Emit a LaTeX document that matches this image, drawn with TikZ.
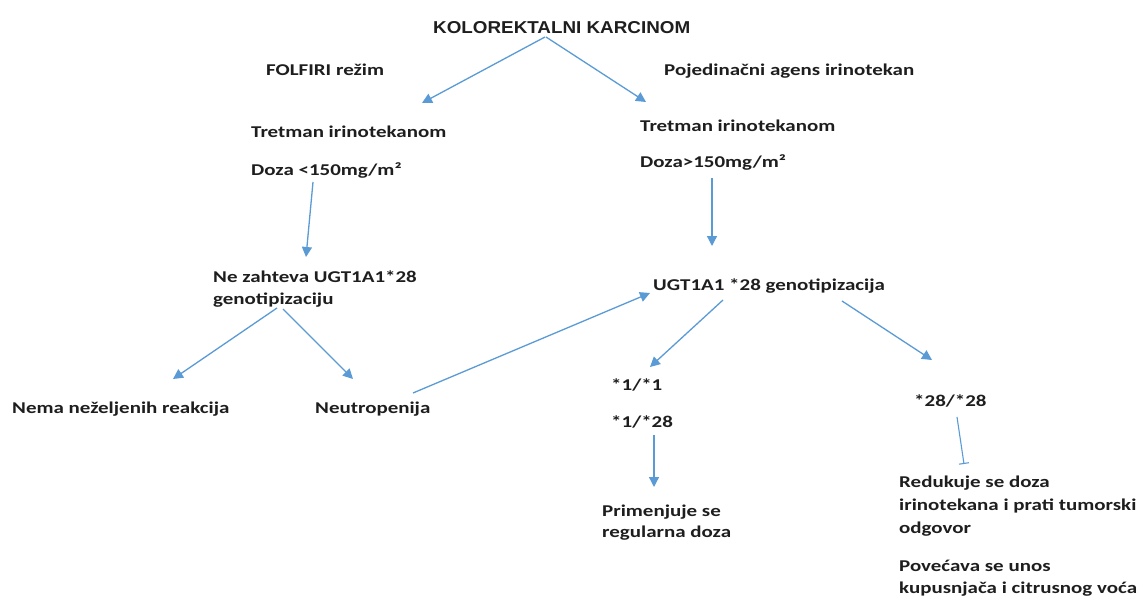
\documentclass[tikz,border=0pt]{standalone}
\usepackage{fontspec}
\setmainfont{Carlito}[FakeStretch=1.27]
\newfontfamily\titlefont{Liberation Sans}[FakeStretch=1.095]
\usetikzlibrary{arrows.meta}
\definecolor{arrowblue}{HTML}{5B9BD5}
\definecolor{txt}{HTML}{1E1E1E}
\tikzset{
  lbl/.style={anchor=base west, inner sep=0pt, text=txt, align=left,
    font=\fontsize{16.5}{22}\selectfont\bfseries},
  ttl/.style={anchor=base west, inner sep=0pt, text=txt,
    font=\fontsize{17.2}{20}\selectfont\titlefont\bfseries},
  conn/.style={draw=arrowblue, line width=1.3pt,
    -{Triangle[length=10pt,width=10pt]}},
  barconn/.style={draw=arrowblue, line width=1.1pt, -{Bar[width=10pt]}}
}
\begin{document}
\begin{tikzpicture}[x=1pt,y=-1pt]
\useasboundingbox[fill=white] (0,0) rectangle (1140,596);

\node[ttl] (title) at (433,34) {KOLOREKTALNI KARCINOM};
\node[lbl] (folfiri) at (266,76) {FOLFIRI režim};
\node[lbl] (agens) at (664,76) {Pojedinačni agens irinotekan};
\node[lbl] (tretL) at (251,138) {Tretman irinotekanom};
\node[lbl] (dozaL) at (251,176) {Doza <150mg/m²};
\node[lbl] (tretR) at (640,132) {Tretman irinotekanom};
\node[lbl] (dozaR) at (640,168) {Doza>150mg/m²};
\node[lbl] (nezaht) at (213,304) {Ne zahteva UGT1A1*28\\genotipizaciju};
\node[lbl] (nema) at (12,413) {Nema neželjenih reakcija};
\node[lbl] (neutro) at (315,413) {Neutropenija};
\node[lbl] (ugt) at (653,290) {UGT1A1 *28 genotipizacija};
\node[lbl] (g11) at (611,390) {*1/*1};
\node[lbl] (g128) at (611,427) {*1/*28};
\node[lbl, font=\fontsize{16.5}{21}\selectfont\bfseries] (prim) at (602,537) {Primenjuje se\\regularna doza};
\node[lbl] (g2828) at (914,406) {*28/*28};
\node[lbl, font=\fontsize{16.5}{23}\selectfont\bfseries] (redu) at (899,533) {Redukuje se doza\\irinotekana i prati tumorski\\odgovor};
\node[lbl] (pove) at (899,593) {Povećava se unos\\kupusnjača i citrusnog voća};

\coordinate (s1) at (545,37);  \coordinate (e1) at (422,103);
\coordinate (s2) at (546,37);  \coordinate (e2) at (646,102);
\coordinate (s3) at (313,182); \coordinate (e3) at (306,257);
\coordinate (s4) at (712,178); \coordinate (e4) at (712,246);
\coordinate (s5) at (277,308); \coordinate (e5) at (173,379);
\coordinate (s6) at (283,309); \coordinate (e6) at (353,379);
\coordinate (s7) at (413,393); \coordinate (e7) at (650,293);
\coordinate (s8) at (723,300); \coordinate (e8) at (650,367);
\coordinate (s9) at (842,301); \coordinate (e9) at (932,360);
\coordinate (s10) at (654,435); \coordinate (e10) at (654,487);
\coordinate (s11) at (957,417); \coordinate (e11) at (964,464);

\draw[conn] (s1) -- (e1);
\draw[conn] (s2) -- (e2);
\draw[conn] (s3) -- (e3);
\draw[conn] (s4) -- (e4);
\draw[conn] (s5) -- (e5);
\draw[conn] (s6) -- (e6);
\draw[conn] (s7) -- (e7);
\draw[conn] (s8) -- (e8);
\draw[conn] (s9) -- (e9);
\draw[conn] (s10) -- (e10);
\draw[barconn] (s11) -- (e11);
\end{tikzpicture}
\end{document}
